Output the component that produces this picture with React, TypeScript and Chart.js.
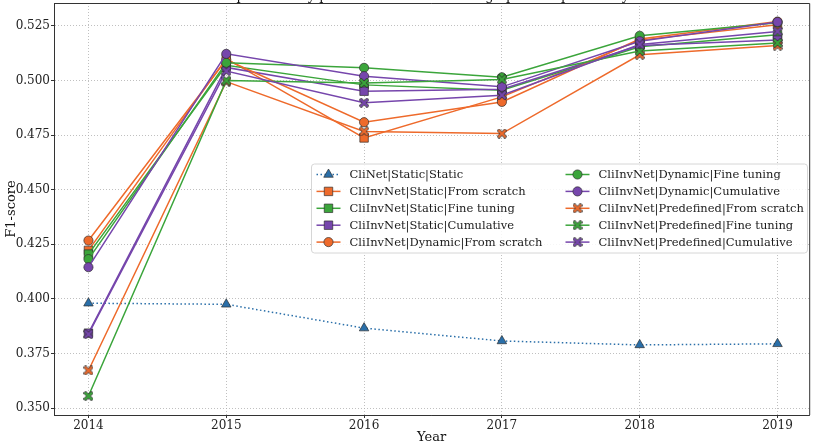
import React, { useEffect, useRef } from 'react';
import { Chart, registerables } from 'chart.js';

Chart.register(...registerables);

const titleText = 'Response-likely performance with training up to the previous year';
const years = [2014, 2015, 2016, 2017, 2018, 2019];
const yTickValues = [0.35, 0.375, 0.4, 0.425, 0.45, 0.475, 0.5, 0.525];

const seriesLabels = [
  'CliNet|Static|Static',
  'CliInvNet|Static|From scratch',
  'CliInvNet|Static|Fine tuning',
  'CliInvNet|Static|Cumulative',
  'CliInvNet|Dynamic|From scratch',
  'CliInvNet|Dynamic|Fine tuning',
  'CliInvNet|Dynamic|Cumulative',
  'CliInvNet|Predefined|From scratch',
  'CliInvNet|Predefined|Fine tuning',
  'CliInvNet|Predefined|Cumulative',
];

const cliNetStatic = [0.398, 0.3975, 0.3866, 0.3807, 0.3789, 0.3794];
const staticFromScratch = [0.4222, 0.51, 0.4737, 0.4925, 0.5185, 0.5255];
const staticFineTuning = [0.4205, 0.507, 0.498, 0.4955, 0.5155, 0.521];
const staticCumulative = [0.3843, 0.506, 0.4951, 0.496, 0.516, 0.5185];
const dynamicFromScratch = [0.4267, 0.5095, 0.4809, 0.4902, 0.519, 0.527];
const dynamicFineTuning = [0.4182, 0.5081, 0.5058, 0.5015, 0.5205, 0.5265];
const dynamicCumulative = [0.4145, 0.5122, 0.502, 0.4971, 0.518, 0.5268];
const predefinedFromScratch = [0.3672, 0.4995, 0.4767, 0.4757, 0.5118, 0.516];
const predefinedFineTuning = [0.3555, 0.5, 0.4989, 0.5005, 0.5135, 0.5172];
const predefinedCumulative = [0.3838, 0.5043, 0.4898, 0.4933, 0.5165, 0.5225];

const seriesValues = [
  cliNetStatic,
  staticFromScratch,
  staticFineTuning,
  staticCumulative,
  dynamicFromScratch,
  dynamicFineTuning,
  dynamicCumulative,
  predefinedFromScratch,
  predefinedFineTuning,
  predefinedCumulative,
];

const BLUE = '#2a6fa9';
const ORANGE = '#ee6a2b';
const GREEN = '#3ba53b';
const PURPLE = '#7646ac';
const EDGE = 'rgba(45,45,45,0.85)';
const FONT = '"DejaVu Serif", serif';

const seriesColors = [BLUE, ORANGE, GREEN, PURPLE, ORANGE, GREEN, PURPLE, ORANGE, GREEN, PURPLE];
const seriesMarkers = ['triangle', 'rect', 'rect', 'rect', 'circle', 'circle', 'circle', 'x', 'x', 'x'];

function makeXMarker(color: string): HTMLCanvasElement {
  const c = document.createElement('canvas');
  c.width = 10;
  c.height = 10;
  const ctx = c.getContext('2d')!;
  const a = 2.8;
  ctx.lineCap = 'square';
  ctx.translate(5, 5);
  ctx.strokeStyle = EDGE;
  ctx.lineWidth = 3.6;
  ctx.beginPath();
  ctx.moveTo(-a, -a); ctx.lineTo(a, a);
  ctx.moveTo(-a, a); ctx.lineTo(a, -a);
  ctx.stroke();
  ctx.strokeStyle = color;
  ctx.lineWidth = 2.2;
  ctx.beginPath();
  ctx.moveTo(-a, -a); ctx.lineTo(a, a);
  ctx.moveTo(-a, a); ctx.lineTo(a, -a);
  ctx.stroke();
  return c;
}

function markerRadius(m: string) {
  if (m === 'rect') return 6;
  if (m === 'triangle') return 5.5;
  if (m === 'circle') return 4.6;
  return 5;
}

function drawLegendMarker(ctx: CanvasRenderingContext2D, m: string, x: number, y: number, color: string, img?: HTMLCanvasElement) {
  ctx.save();
  ctx.fillStyle = color;
  ctx.strokeStyle = EDGE;
  ctx.lineWidth = 0.8;
  ctx.setLineDash([]);
  const r = markerRadius(m);
  if (m === 'circle') {
    ctx.beginPath();
    ctx.arc(x, y, r, 0, Math.PI * 2);
    ctx.fill();
    ctx.stroke();
  } else if (m === 'rect') {
    const s = r * Math.SQRT1_2;
    ctx.beginPath();
    ctx.rect(x - s, y - s, 2 * s, 2 * s);
    ctx.fill();
    ctx.stroke();
  } else if (m === 'triangle') {
    ctx.beginPath();
    for (let k = 0; k < 3; k++) {
      const ang = (k * 2 * Math.PI) / 3;
      const px = x + Math.sin(ang) * r;
      const py = y - Math.cos(ang) * r;
      if (k === 0) ctx.moveTo(px, py); else ctx.lineTo(px, py);
    }
    ctx.closePath();
    ctx.fill();
    ctx.stroke();
  } else if (img) {
    ctx.drawImage(img, x - img.width / 2, y - img.height / 2);
  }
  ctx.restore();
}

const SHIFT = 20;

export default function App() {
  const ref = useRef<HTMLCanvasElement>(null);

  useEffect(() => {
    if (!ref.current) return;
    const xImgs: Record<string, HTMLCanvasElement> = {
      [ORANGE]: makeXMarker(ORANGE),
      [GREEN]: makeXMarker(GREEN),
      [PURPLE]: makeXMarker(PURPLE),
    };

    const datasets = seriesValues.map((vals, i) => {
      const m = seriesMarkers[i];
      const color = seriesColors[i];
      return {
        label: seriesLabels[i],
        data: vals.map((v, j) => ({ x: years[j], y: v })),
        borderColor: color,
        backgroundColor: color,
        borderWidth: 1.5,
        borderDash: i === 0 ? [1.5, 2.5] : [],
        pointStyle: m === 'x' ? xImgs[color] : m,
        pointRadius: markerRadius(m),
        pointBorderColor: EDGE,
        pointBorderWidth: 0.8,
        pointBackgroundColor: color,
        tension: 0,
        order: -i,
      };
    });

    const decorPlugin = {
      id: 'decor',
      afterDraw(chart: any) {
        const ctx: CanvasRenderingContext2D = chart.ctx;
        const ca = chart.chartArea;
        ctx.save();
        ctx.setLineDash([]);
        // frame top & right
        ctx.strokeStyle = '#333';
        ctx.lineWidth = 1;
        ctx.beginPath();
        ctx.moveTo(ca.left, ca.top + 0.5);
        ctx.lineTo(ca.right + 0.5, ca.top + 0.5);
        ctx.lineTo(ca.right + 0.5, ca.bottom);
        ctx.stroke();
        // title (partially cut at the top of the page)
        ctx.fillStyle = '#111';
        ctx.font = `13px ${FONT}`;
        ctx.textAlign = 'center';
        ctx.textBaseline = 'alphabetic';
        ctx.fillText(titleText, (ca.left + ca.right) / 2, SHIFT - 0.5);

        // legend
        const bx = ca.left + 257.5;
        const by = ca.top + 161;
        const bw = 496;
        const bh = 89;
        ctx.beginPath();
        (ctx as any).roundRect(bx, by, bw, bh, 3);
        ctx.fillStyle = 'rgba(255,255,255,0.85)';
        ctx.fill();
        ctx.strokeStyle = '#d6d6d6';
        ctx.lineWidth = 1;
        ctx.stroke();
        ctx.font = `11.5px ${FONT}`;
        ctx.textAlign = 'left';
        ctx.textBaseline = 'middle';
        for (let i = 0; i < seriesLabels.length; i++) {
          const col = i < 5 ? 0 : 1;
          const row = i % 5;
          const hx = bx + 5 + col * 249;
          const hy = by + 10.5 + row * 16.9;
          const color = seriesColors[i];
          ctx.save();
          ctx.strokeStyle = color;
          ctx.lineWidth = 1.5;
          ctx.setLineDash(i === 0 ? [1.5, 2.5] : []);
          ctx.beginPath();
          ctx.moveTo(hx, hy);
          ctx.lineTo(hx + 24, hy);
          ctx.stroke();
          ctx.restore();
          drawLegendMarker(ctx, seriesMarkers[i], hx + 12, hy, color, xImgs[color]);
          ctx.fillStyle = '#1a1a1a';
          ctx.fillText(seriesLabels[i], hx + 33, hy + 0.5);
        }
        ctx.restore();
      },
    };

    const gridCommon = {
      color: '#b0b0b0',
      lineWidth: 0.8,
      drawTicks: true,
      tickLength: 3,
      tickColor: '#333',
      tickBorderDash: [],
      tickWidth: 1,
    };
    const borderCommon = { display: true, color: '#333', width: 1, dash: [1, 2] };

    const chart = new Chart(ref.current, {
      type: 'line',
      data: { datasets: datasets as any },
      plugins: [decorPlugin],
      options: {
        animation: false,
        responsive: false,
        devicePixelRatio: 1,
        layout: { padding: { top: SHIFT + 3, right: 6, left: 0, bottom: 0 } },
        plugins: {
          legend: { display: false },
          title: { display: false },
          tooltip: { enabled: false },
        },
        scales: {
          x: {
            type: 'linear',
            min: 2013.75,
            max: 2019.23,
            afterBuildTicks: (scale: any) => {
              scale.ticks = years.map((v) => ({ value: v }));
            },
            afterFit: (scale: any) => {
              scale.height = 30;
            },
            ticks: {
              color: '#222',
              font: { family: FONT, size: 12 },
              padding: 1,
              maxRotation: 0,
              callback: (v: any) => String(v),
            },
            grid: gridCommon as any,
            border: borderCommon,
            title: {
              display: true,
              text: 'Year',
              color: '#111',
              font: { family: FONT, size: 13 },
              padding: 0,
            },
          },
          y: {
            type: 'linear',
            min: 0.3468,
            max: 0.5355,
            afterBuildTicks: (scale: any) => {
              scale.ticks = yTickValues.map((v) => ({ value: v }));
            },
            afterFit: (scale: any) => {
              scale.width = 54;
            },
            ticks: {
              color: '#222',
              font: { family: FONT, size: 12 },
              padding: 1,
              callback: (v: any) => Number(v).toFixed(3),
            },
            grid: gridCommon as any,
            border: borderCommon,
            title: {
              display: true,
              text: 'F1-score',
              color: '#111',
              font: { family: FONT, size: 13 },
              padding: { top: 4, bottom: 0 },
            },
          },
        },
      } as any,
    });
    return () => chart.destroy();
  }, []);

  return (
    <div style={{ position: 'absolute', left: 0, top: -SHIFT, width: 816, height: 445 + SHIFT }}>
      <canvas ref={ref} width={816} height={445 + SHIFT} style={{ display: 'block' }} />
    </div>
  );
}
